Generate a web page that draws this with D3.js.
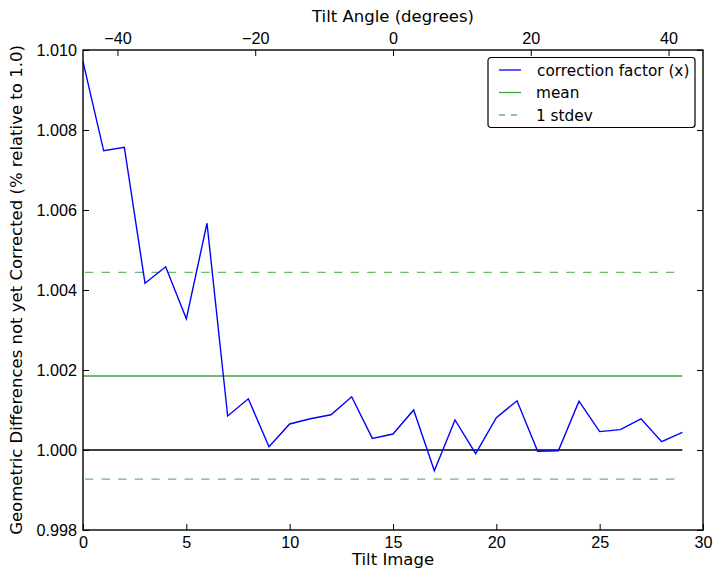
<!DOCTYPE html>
<html>
<head>
<meta charset="utf-8">
<script src="https://cdn.jsdelivr.net/npm/d3@7"></script>
<style>
  body { margin: 0; background: #fff; }
  svg { font-family: "DejaVu Sans", sans-serif; }
  .axis text { font-size: 16.2px; fill: #000; }
  .axis path, .axis line { stroke: #000; }
</style>
</head>
<body>
<svg id="chart"></svg>
<script>
// Tilt image index and correction factor per image
const tiltImages = d3.range(0, 30);
const correctionFactor = [
    1.00971, 1.00748, 1.00757, 1.00417, 1.00458, 1.00328, 1.00567, 1.00085, 1.00128, 1.00008,
    1.00065, 1.00078, 1.00088, 1.00133, 1.00029, 1.00040, 1.00100, 0.99948, 1.00075, 0.99991,
    1.00081, 1.00123, 0.99997, 0.99998, 1.00122, 1.00046, 1.00051, 1.00078, 1.00021, 1.00044
];
const meanValue = 1.00185;
const stdevBounds = [1.00444, 0.99927];
const baseline = 1.0;

const xTicks = [0, 5, 10, 15, 20, 25, 30];
const yTicks = [0.998, 1.000, 1.002, 1.004, 1.006, 1.008, 1.010];
const angleTicks = [-40, -20, 0, 20, 40];
const legendItems = ['correction factor (x)', 'mean', '1 stdev'];

const width = 722, height = 579;
const margin = {top: 50, right: 19, bottom: 49, left: 83};
const innerW = width - margin.left - margin.right;
const innerH = height - margin.top - margin.bottom;
const labelSize = 16.5;
const legendSize = 15.3;

const svg = d3.select('#chart')
    .attr('width', width)
    .attr('height', height);

const chart = svg.append('g')
    .attr('transform', `translate(${margin.left},${margin.top})`);

const xScale = d3.scaleLinear().domain([0, 30]).range([0, innerW]);
const yScale = d3.scaleLinear().domain([0.998, 1.010]).range([innerH, 0]);
const angleScale = d3.scaleLinear().domain([-45, 45]).range([0, innerW]);

const blue = '#0000ff';
const meanGreen = '#3fa63f';
const stdGreen = '#6db86d';

// horizontal reference lines over the data range
const lineX = d3.extent(tiltImages);
chart.append('line')
    .attr('x1', xScale(lineX[0])).attr('x2', xScale(lineX[1]))
    .attr('y1', yScale(baseline)).attr('y2', yScale(baseline))
    .attr('stroke', '#000').attr('stroke-width', 1.4);

chart.append('line')
    .attr('x1', xScale(lineX[0])).attr('x2', xScale(lineX[1]))
    .attr('y1', yScale(meanValue)).attr('y2', yScale(meanValue))
    .attr('stroke', meanGreen).attr('stroke-width', 1.3);

chart.selectAll('.stdev')
    .data(stdevBounds)
    .join('line')
    .attr('class', 'stdev')
    .attr('x1', xScale(lineX[0])).attr('x2', xScale(lineX[1]))
    .attr('y1', d => yScale(d)).attr('y2', d => yScale(d))
    .attr('stroke', stdGreen).attr('stroke-width', 1.3)
    .attr('stroke-dasharray', '8.3,8.3')
    .attr('stroke-dashoffset', -2);

// correction factor line
const line = d3.line()
    .x((d, i) => xScale(tiltImages[i]))
    .y(d => yScale(d));

chart.append('path')
    .datum(correctionFactor)
    .attr('d', line)
    .attr('fill', 'none')
    .attr('stroke', blue)
    .attr('stroke-width', 1.4);

// axes (ticks point inward, matplotlib classic)
const tickLen = 6;
chart.append('g')
    .attr('class', 'axis')
    .attr('transform', `translate(0,${innerH})`)
    .call(d3.axisBottom(xScale).tickValues(xTicks).tickFormat(d3.format('d'))
        .tickSizeInner(-tickLen).tickSizeOuter(0).tickPadding(6))
    .call(g => g.select('.domain').remove());

chart.append('g')
    .attr('class', 'axis')
    .call(d3.axisTop(angleScale).tickValues(angleTicks).tickFormat(d => d < 0 ? '\u2212' + Math.abs(d) : d)
        .tickSizeInner(-tickLen).tickSizeOuter(0).tickPadding(6))
    .call(g => g.select('.domain').remove());

chart.append('g')
    .attr('class', 'axis')
    .call(d3.axisLeft(yScale).tickValues(yTicks).tickFormat(d3.format('.3f'))
        .tickSizeInner(-tickLen).tickSizeOuter(0).tickPadding(6))
    .call(g => g.select('.domain').remove());

chart.append('g')
    .attr('class', 'axis')
    .attr('transform', `translate(${innerW},0)`)
    .call(d3.axisRight(yScale).tickValues(yTicks).tickFormat('')
        .tickSizeInner(-tickLen).tickSizeOuter(0))
    .call(g => g.select('.domain').remove());

// frame
chart.append('rect')
    .attr('width', innerW).attr('height', innerH)
    .attr('fill', 'none').attr('stroke', '#000').attr('stroke-width', 1.4);

// axis titles
svg.append('text')
    .attr('x', margin.left + innerW / 2).attr('y', 565)
    .attr('text-anchor', 'middle').attr('font-size', labelSize)
    .text('Tilt Image');

svg.append('text')
    .attr('x', margin.left + innerW / 2).attr('y', 22)
    .attr('text-anchor', 'middle').attr('font-size', labelSize)
    .text('Tilt Angle (degrees)');

svg.append('text')
    .attr('transform', `translate(21.5,${margin.top + innerH / 2}) rotate(-90)`)
    .attr('text-anchor', 'middle').attr('font-size', labelSize)
    .text('Geometric Differences not yet Corrected (% relative to 1.0)');

// legend
const legend = svg.append('g').attr('transform', 'translate(488,57.5)');
legend.append('rect')
    .attr('width', 207).attr('height', 70)
    .attr('rx', 3).attr('ry', 3)
    .attr('fill', '#fff').attr('stroke', '#000').attr('stroke-width', 1.2);

const legendStyles = [
    {stroke: blue, dash: null},
    {stroke: meanGreen, dash: null},
    {stroke: stdGreen, dash: '6,6'}
];

const rows = legend.selectAll('.legend-row')
    .data(legendItems)
    .join('g')
    .attr('class', 'legend-row')
    .attr('transform', (d, i) => `translate(0,${12.5 + i * 22.5})`);

rows.append('line')
    .attr('x1', 11).attr('x2', 33)
    .attr('stroke', (d, i) => legendStyles[i].stroke)
    .attr('stroke-width', 1.3)
    .attr('stroke-dasharray', (d, i) => legendStyles[i].dash);

rows.append('text')
    .attr('x', (d, i) => i === 0 ? 49 : 48).attr('y', 5.5)
    .attr('font-size', legendSize)
    .text(d => d);
</script>
</body>
</html>
